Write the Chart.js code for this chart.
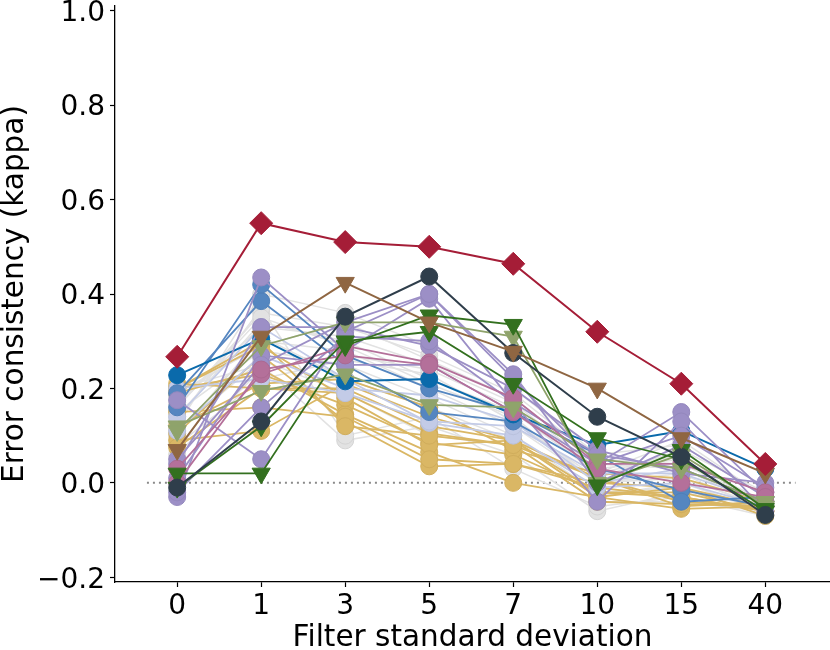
<!DOCTYPE html>
<html>
<head>
<meta charset="utf-8">
<script src="https://cdn.jsdelivr.net/npm/chart.js@4.4.1/dist/chart.umd.min.js"></script>
<style>
  html, body { margin: 0; padding: 0; background: #fff; }
  #wrap { width: 830px; height: 650px; }
</style>
</head>
<body>
<div id="wrap"><canvas id="chart" width="830" height="650"></canvas></div>
<script>
// x categories (filter standard deviation) and y ticks
var filterLabels = ['0', '1', '3', '5', '7', '10', '15', '40'];
var yTicks = [-0.2, 0.0, 0.2, 0.4, 0.6, 0.8, 1.0];
var zeroLineX = [-0.36, 7.36];

// error consistency per model, one value per filter level
var greySeries = [
  [0.16, 0.36, 0.33, 0.27, 0.19, 0.05, 0.04, -0.04],
  [0.14, 0.34, 0.30, 0.22, 0.15, 0.02, 0.06, -0.05],
  [0.18, 0.30, 0.28, 0.20, 0.12, 0.00, 0.02, -0.06],
  [0.12, 0.40, 0.36, 0.29, 0.20, 0.06, 0.08, -0.03],
  [0.15, 0.28, 0.25, 0.18, 0.10, -0.02, -0.01, -0.07],
  [0.10, 0.31, 0.22, 0.16, 0.09, -0.03, 0.00, -0.06],
  [0.20, 0.25, 0.09, 0.12, 0.06, -0.06, -0.02, -0.05],
  [0.13, 0.37, 0.10, 0.14, 0.03, -0.05, -0.03, -0.07],
  [0.17, 0.33, 0.31, 0.25, 0.17, 0.03, 0.05, -0.04],
  [0.08, 0.22, 0.26, 0.23, 0.13, 0.01, 0.07, -0.02],
  [0.19, 0.29, 0.34, 0.26, 0.18, 0.04, 0.03, -0.05],
  [0.11, 0.26, 0.19, 0.10, 0.08, -0.04, -0.04, -0.06],
  [0.16, 0.35, 0.29, 0.21, 0.14, 0.00, 0.01, -0.05],
  [0.06, 0.24, 0.27, 0.24, 0.16, 0.02, 0.09, -0.03]
];
var tanSeries = [
  [0.21, 0.20, 0.20, 0.12, 0.09, 0.01, -0.05, -0.04],
  [0.20, 0.23, 0.165, 0.085, 0.06, -0.02, -0.03, -0.06],
  [0.19, 0.24, 0.145, 0.065, 0.00, -0.03, -0.055, -0.05],
  [0.105, 0.27, 0.13, 0.035, 0.04, 0.00, -0.01, -0.05],
  [0.09, 0.11, 0.21, 0.14, 0.09, -0.02, -0.02, -0.06],
  [0.075, 0.20, 0.19, 0.105, 0.08, 0.01, -0.04, -0.05],
  [0.20, 0.29, 0.18, 0.08, 0.09, -0.03, -0.01, -0.07],
  [0.12, 0.21, 0.22, 0.16, 0.07, 0.02, 0.01, -0.04],
  [0.15, 0.16, 0.14, 0.05, 0.04, -0.01, -0.03, -0.06],
  [0.20, 0.30, 0.12, 0.10, 0.08, -0.04, -0.045, -0.05]
];
var lightBlueSeries = [
  [0.11, 0.27, 0.20, 0.185, 0.13, 0.00, 0.03, -0.04],
  [0.14, 0.33, 0.22, 0.127, 0.10, -0.01, 0.00, -0.05],
  [0.20, 0.22, 0.19, 0.13, 0.12, 0.02, 0.02, -0.04]
];
var midBlueSeries = [
  [0.19, 0.385, 0.25, 0.15, 0.13, 0.03, -0.015, -0.05],
  [0.16, 0.42, 0.27, 0.20, 0.15, 0.06, -0.04, -0.03]
];
var darkBlueSeries = [
  [0.228, 0.305, 0.215, 0.22, 0.145, 0.08, 0.11, 0.03]
];
var purpleSeries = [
  [0.175, 0.05, 0.32, 0.40, 0.22, 0.04, 0.15, -0.02],
  [-0.03, 0.435, 0.28, 0.39, 0.17, -0.04, 0.13, -0.06],
  [0.04, 0.33, 0.33, 0.29, 0.20, 0.07, 0.02, 0.00],
  [0.01, 0.27, 0.25, 0.25, 0.15, 0.04, 0.10, -0.01],
  [-0.02, 0.16, 0.31, 0.30, 0.17, 0.06, 0.03, -0.04],
  [0.05, 0.25, 0.34, 0.40, 0.23, 0.00, 0.08, -0.03]
];
var pinkSeries = [
  [0.03, 0.23, 0.29, 0.255, 0.18, 0.04, 0.04, -0.02],
  [0.00, 0.24, 0.27, 0.25, 0.15, 0.03, 0.00, -0.03]
];
var oliveSeries = [
  [0.12, 0.195, 0.23, 0.165, 0.16, 0.05, 0.03, -0.04],
  [0.11, 0.29, 0.34, 0.34, 0.31, 0.00, 0.06, -0.05]
];
var greenSeries = [
  [0.02, 0.02, 0.29, 0.355, 0.335, -0.005, 0.07, -0.055],
  [-0.01, 0.12, 0.30, 0.32, 0.21, 0.095, 0.05, -0.06]
];
var slateSeries = [
  [-0.01, 0.13, 0.352, 0.437, 0.275, 0.14, 0.055, -0.068]
];
var brownSeries = [
  [0.07, 0.31, 0.424, 0.34, 0.278, 0.20, 0.095, 0.02]
];
var humanSeries = [
  [0.267, 0.55, 0.51, 0.50, 0.464, 0.32, 0.21, 0.04]
];

// drawing groups, back to front
var groups = [
  { rows: greySeries,      color: '#e2e2e2', edge: '#d4d4d4', marker: 'circle',   size: 8.5, line: 1.5 },
  { rows: tanSeries,       color: '#dab765', edge: '#d0ad5c', marker: 'circle',   size: 8.5, line: 1.8 },
  { rows: lightBlueSeries, color: '#c3cbe7', edge: '#b9c1dd', marker: 'circle',   size: 8.5, line: 1.8 },
  { rows: midBlueSeries,   color: '#5586c0', edge: '#4f7fb8', marker: 'circle',   size: 8.5, line: 1.8 },
  { rows: darkBlueSeries,  color: '#0a6aab', edge: '#0a6aab', marker: 'circle',   size: 8.5, line: 2 },
  { rows: purpleSeries,    color: '#9c8fc6', edge: '#9488bd', marker: 'circle',   size: 8.5, line: 1.8 },
  { rows: pinkSeries,      color: '#b4709a', edge: '#ab6992', marker: 'circle',   size: 8.5, line: 1.8 },
  { rows: oliveSeries,     color: '#8fa36b', edge: '#8fa36b', marker: 'triangle', size: 10.5, line: 1.8 },
  { rows: greenSeries,     color: '#33701f', edge: '#33701f', marker: 'triangle', size: 10.5, line: 1.8 },
  { rows: slateSeries,     color: '#2f3e4b', edge: '#2f3e4b', marker: 'circle',   size: 8.5, line: 2 },
  { rows: brownSeries,     color: '#8f6642', edge: '#8f6642', marker: 'triangle', size: 10.5, line: 2 },
  { rows: humanSeries,     color: '#a51d37', edge: '#a51d37', marker: 'rectRot',  size: 11.5, line: 2 }
];

var datasets = [];
var layer = 0;

// dotted reference line at zero, behind everything
datasets.push({
  data: zeroLineX.map(function (x) { return { x: x, y: 0 }; }),
  borderColor: '#8a8a8a',
  borderWidth: 2,
  borderDash: [2, 4],
  pointRadius: 0,
  order: 1000
});

groups.forEach(function (g) {
  g.rows.forEach(function (row) {
    layer++;
    datasets.push({
      data: row.map(function (v, i) { return { x: i, y: v }; }),
      borderColor: g.color,
      backgroundColor: g.color,
      borderWidth: g.line,
      pointStyle: g.marker,
      pointRotation: g.marker === 'triangle' ? 180 : 0,
      pointRadius: g.size,
      pointBorderColor: g.edge,
      pointBackgroundColor: g.color,
      pointBorderWidth: 1,
      tension: 0,
      order: -layer   // smaller order is drawn later (on top)
    });
  });
});

var font = 'DejaVu Sans';

var chart = new Chart(document.getElementById('chart'), {
  type: 'line',
  data: { datasets: datasets },
  options: {
    responsive: false,
    animation: false,
    devicePixelRatio: 1,
    layout: { autoPadding: false, padding: { top: 6, right: 0, left: 0, bottom: 0 } },
    plugins: { legend: { display: false }, tooltip: { enabled: false } },
    elements: { line: { fill: false } },
    scales: {
      x: {
        type: 'linear',
        min: -0.74,
        max: 7.77,
        afterBuildTicks: function (s) {
          s.ticks = filterLabels.map(function (_, i) { return { value: i }; });
        },
        afterFit: function (s) {
          s.height = 68;
          s.paddingLeft = 0; s.paddingRight = 0;
        },
        ticks: {
          autoSkip: false,
          maxRotation: 0,
          padding: 3,
          color: '#000',
          font: { family: font, size: 28 },
          callback: function (v) { return filterLabels[v]; }
        },
        grid: { drawOnChartArea: false, drawTicks: true, tickLength: 5, tickColor: '#000', tickWidth: 1.2 },
        border: { display: true, color: '#000', width: 1.3 },
        title: {
          display: true,
          text: 'Filter standard deviation',
          color: '#000',
          font: { family: font, size: 29.5, lineHeight: 1 },
          padding: { top: 0, bottom: -3 }
        }
      },
      y: {
        type: 'linear',
        min: -0.21,
        max: 1.01,
        afterBuildTicks: function (s) {
          s.ticks = yTicks.map(function (v) { return { value: v }; });
        },
        afterFit: function (s) {
          s.width = 115;
          s.paddingTop = 0; s.paddingBottom = 0;
        },
        ticks: {
          padding: 5,
          labelOffset: 3,
          color: '#000',
          font: { family: font, size: 28 },
          callback: function (v) {
            var t = Math.abs(v).toFixed(1);
            return v < -1e-9 ? '\u2212' + t : t;
          }
        },
        grid: { drawOnChartArea: false, drawTicks: true, tickLength: 5, tickColor: '#000', tickWidth: 1.2 },
        border: { display: true, color: '#000', width: 1.3 },
        title: {
          display: true,
          text: 'Error consistency (kappa)',
          color: '#000',
          font: { family: font, size: 29.5, lineHeight: 1 },
          padding: { top: 1, bottom: 0 }
        }
      }
    }
  }
});
</script>
</body>
</html>
